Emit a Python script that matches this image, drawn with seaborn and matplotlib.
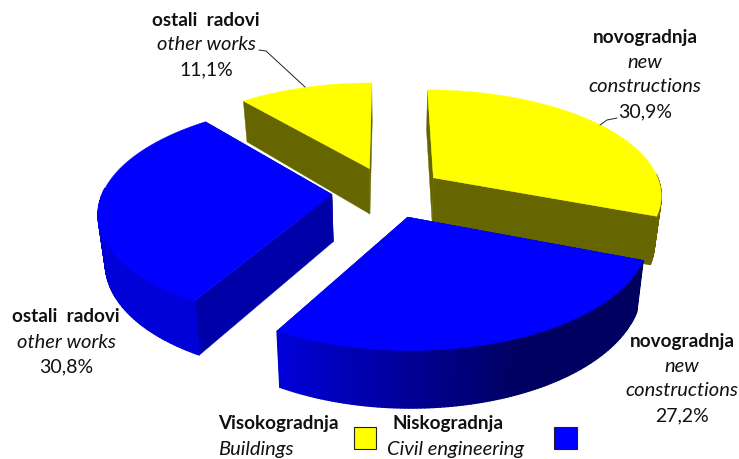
"""Exploded 3D-look pie of construction works, drawn from the share values."""
import numpy as np
import matplotlib; matplotlib.use("Agg")
import matplotlib.pyplot as plt
from matplotlib.patches import Polygon, Rectangle
import seaborn as sns

# ── Data ──────────────────────────────────────────────────────────────────────
shares = [30.9, 27.2, 30.8, 11.1]
share_labels = ["30,9%", "27,2%", "30,8%", "11,1%"]
slice_groups = ["Visokogradnja", "Niskogradnja", "Niskogradnja", "Visokogradnja"]
legend_names = ["Visokogradnja", "Niskogradnja"]
legend_names_en = ["Buildings", "Civil engineering"]

# ── Style / projection ────────────────────────────────────────────────────────
W, H = 739, 459
CX, CY = 388, 192        # pie centre in pixels
A, B = 229, 105          # ellipse radii
P = 0.15                 # perspective strength
EXPLODE = 0.245
DEPTH = 47
SHRINK = 0.975
FS_BOLD, FS_ITALIC, FS_PLAIN = 13.6, 14.5, 14
TXT = "#111111"

TOP = {"Visokogradnja": "#ffff00", "Niskogradnja": "#0000ff"}
WALL = {"Visokogradnja": ["#666600", "#666600"], "Niskogradnja": ["#0000d8", "#000060"]}
RADIAL = {"Visokogradnja": "#666600", "Niskogradnja": "#0000a8"}

sns.set_theme(style="white")
plt.rcParams["font.family"] = ["Lato", "DejaVu Sans"]


def project(x, y):
    w = 1 / (1 + P * y)
    return CX + A * x * w, CY - B * y * w, w


def top_pts(ang, r, ox, oy):
    return project(r * np.sin(ang) + ox, r * np.cos(ang) + oy)


def base_pts(u, v, w):
    return CX + (u - CX) * SHRINK, v + DEPTH * w


def draw_slice(ax, a0, a1, group, z):
    mid = (a0 + a1) / 2
    ox, oy = EXPLODE * np.sin(mid), EXPLODE * np.cos(mid)
    ang = np.linspace(a0, a1, 120)
    u, v, w = top_pts(ang, 1.0, ox, oy)
    bu, bv = base_pts(u, v, w)
    au, av, aw = project(ox, oy)
    abu, abv = base_pts(au, av, aw)

    # radial walls, then the rim, then the top face
    for end in (0, -1):
        ax.add_patch(Polygon([(au, av), (u[end], v[end]), (bu[end], bv[end]), (abu, abv)],
                             closed=True, fc=RADIAL[group], ec=RADIAL[group], lw=0.3, zorder=z))
    shades = sns.blend_palette(WALL[group], 120)
    for i in range(119):
        if np.cos(ang[i]) > 0.05:
            continue
        # shade darkens left to right across the near side
        t = int(np.clip((u[i] - 278) / 242 * 119, 0, 119))
        ax.add_patch(Polygon([(u[i], v[i]), (u[i + 1], v[i + 1]), (bu[i + 1], bv[i + 1]), (bu[i], bv[i])],
                             closed=True, fc=shades[t], ec=shades[t], lw=1.0, zorder=z + 0.1))
    ax.add_patch(Polygon(np.column_stack([np.r_[au, u], np.r_[av, v]]), closed=True,
                         fc=TOP[group], ec=TOP[group], lw=0.3, zorder=z + 0.2))


fig = plt.figure(figsize=(W / 100, H / 100), dpi=100)
ax = fig.add_axes([0, 0, 1, 1])
ax.set_xlim(0, W); ax.set_ylim(H, 0); ax.axis("off")

edges = np.r_[0, np.cumsum(shares)] / np.sum(shares) * 2 * np.pi
# painted back to front
for i, z in [(3, 1), (0, 2), (2, 3), (1, 4)]:
    draw_slice(ax, edges[i], edges[i + 1], slice_groups[i], z)


def label(x, y, bold, italics, value, step=25):
    dy = 0
    ax.text(x, y, bold, ha="center", va="center", fontsize=FS_BOLD, fontweight="bold", color=TXT, zorder=9)
    for line in italics:
        dy += step
        ax.text(x, y + dy, line, ha="center", va="center", fontsize=FS_ITALIC, style="italic", color=TXT, zorder=9)
    ax.text(x, y + dy + step, value, ha="center", va="center", fontsize=FS_PLAIN, color=TXT, zorder=9)


label(206, 20, "ostali  radovi", ["other works"], share_labels[3])
label(645, 37, "novogradnja", ["new", "constructions"], share_labels[0])
label(66, 317, "ostali  radovi", ["other works"], share_labels[2])
label(682, 341, "novogradnja", ["new", "constructions"], share_labels[1])

# leader lines
ax.plot([259, 266, 305], [50, 51, 87], color="#222222", lw=0.7, zorder=9)
ax.plot([600, 607, 617], [125, 120, 118], color="#222222", lw=0.7, zorder=9)

# legend
for name, en, tx, bx, bw in [(legend_names[0], legend_names_en[0], 218, 354, 22),
                             (legend_names[1], legend_names_en[1], 387, 554, 23)]:
    ax.text(tx + (5 if name == "Niskogradnja" else 0), 424, name, ha="left", va="center", fontsize=FS_BOLD,
            fontweight="bold", color=TXT)
    ax.text(tx, 449, en, ha="left", va="center", fontsize=FS_ITALIC, style="italic", color=TXT)
    ax.add_patch(Rectangle((bx, 427), bw, 22, fc=TOP[name], ec="#222222", lw=0.8))

fig.savefig("out.png", dpi=100)
